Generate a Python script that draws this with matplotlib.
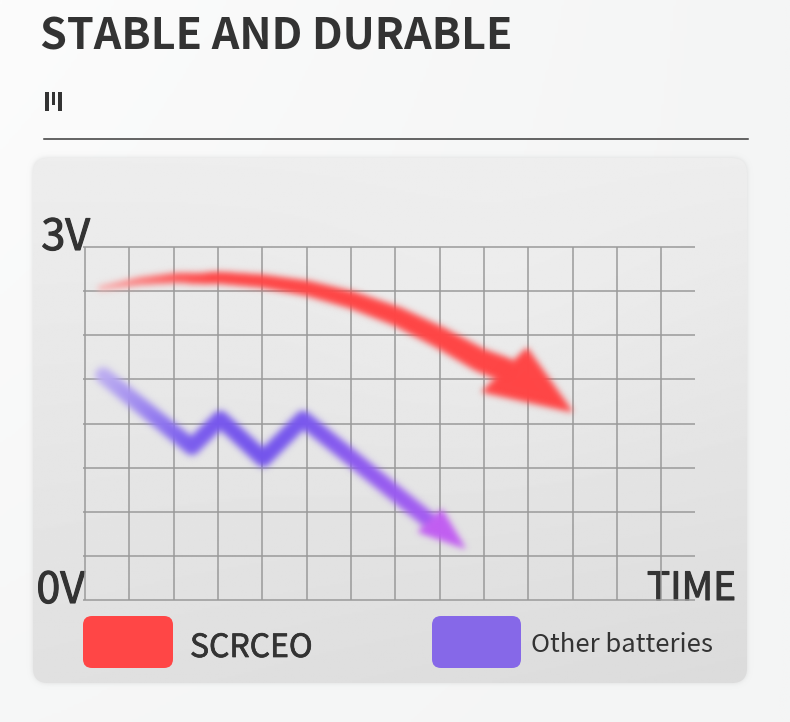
import numpy as np
import matplotlib
matplotlib.use("Agg")
import matplotlib.pyplot as plt
import matplotlib.colors as mcolors
import matplotlib.patheffects as pe
from matplotlib.collections import LineCollection
from matplotlib.patches import FancyBboxPatch, Polygon, Rectangle

plt.rcParams['font.family'] = ['Noto Sans CJK SC', 'DejaVu Sans']

# ---- data: time in grid units, voltage from 0 V to 3 V ----
time_ticks = list(range(14))
volt_levels = [0, 0.375, 0.75, 1.125, 1.5, 1.875, 2.25, 2.625, 3.0]
time_end = 13.76

# SCRCEO discharge curve (tapered arrow shaft) and its arrowhead
red_t = [0.34, 1.24, 2.14, 2.98, 3.99, 5.01, 6.02, 7.04, 8.01, 8.91, 9.46]
red_v = [2.65, 2.71, 2.74, 2.74, 2.71, 2.65, 2.55, 2.41, 2.23, 2.04, 1.96]
red_w = [5, 8, 10, 12, 13, 15, 17, 19, 21, 23, 24]
red_head_t = [8.96, 10.99, 9.97]
red_head_v = [1.77, 1.60, 2.14]

# Other batteries: unstable zig-zag and its arrowhead
purple_t = [0.41, 2.41, 3.05, 4.02, 4.92, 7.78]
purple_v = [1.91, 1.30, 1.54, 1.20, 1.54, 0.67]
purple_head_t = [7.52, 8.57, 8.05]
purple_head_v = [0.58, 0.44, 0.77]

legend_labels = ["SCRCEO", "Other batteries"]
legend_colors = ["#ff4646", "#8668e8"]

TEXT = "#333333"
W, H = 790, 722


class GaussianBlur:
    """agg filter: gaussian blur on the rendered artist (alpha-premultiplied)."""

    def __init__(self, sigma_px):
        self.sigma = sigma_px

    def __call__(self, im, dpi):
        s = self.sigma * dpi / 100.0
        r = int(np.ceil(3 * s))
        xk = np.arange(-r, r + 1)
        k = np.exp(-0.5 * (xk / s) ** 2)
        k /= k.sum()
        a = im[..., 3:4]
        src = np.concatenate([im[..., :3] * a, a], axis=-1)
        p = 2 * r
        src = np.pad(src, [(p, p), (p, p), (0, 0)])
        for axis in (0, 1):
            out = np.zeros_like(src)
            for i, w in enumerate(k):
                out += w * np.roll(src, i - r, axis=axis)
            src = out
        alpha = src[..., 3:4]
        rgb = src[..., :3] / np.maximum(alpha, 1e-6)
        res = np.concatenate([np.clip(rgb, 0, 1), np.clip(alpha, 0, 1)], axis=-1)
        return res, -p, -p


def gradient_stroke(ax, xs, ys, widths_px, colors, sub=16, blur=3.0, z=3):
    cols = [np.array(mcolors.to_rgb(c)) for c in colors]
    segs, lws, cs = [], [], []
    for i in range(len(xs) - 1):
        for j in range(sub):
            t0, t1 = j / sub, (j + 1) / sub
            tm = (t0 + t1) / 2
            p0 = (xs[i] + (xs[i + 1] - xs[i]) * t0, ys[i] + (ys[i + 1] - ys[i]) * t0)
            p1 = (xs[i] + (xs[i + 1] - xs[i]) * t1, ys[i] + (ys[i + 1] - ys[i]) * t1)
            segs.append([p0, p1])
            lws.append((widths_px[i] + (widths_px[i + 1] - widths_px[i]) * tm) * 0.72)
            cs.append(cols[i] + (cols[i + 1] - cols[i]) * tm)
    lc = LineCollection(segs, linewidths=lws, colors=cs, capstyle='round',
                        joinstyle='round', zorder=z)
    lc.set_agg_filter(GaussianBlur(blur))
    ax.add_collection(lc)
    return lc


def medium(width):
    return [pe.withStroke(linewidth=width, foreground=TEXT)]


fig = plt.figure(figsize=(W / 100, H / 100), dpi=100)
fig.patch.set_facecolor("#f6f7f7")

# page-level decoration axes in pixel units
bg = fig.add_axes([0, 0, 1, 1])
bg.set_xlim(0, W)
bg.set_ylim(H, 0)
bg.axis("off")

# soft white sheen on the page background
sheen = np.linspace(1.0, 0.0, 256)[None, :] * np.linspace(1.0, 0.3, 256)[:, None]
bg.imshow(sheen, extent=(0, W, H, 0), cmap=mcolors.LinearSegmentedColormap.from_list(
    "sheen", ["#f4f5f5", "#fcfcfc"]), aspect="auto", zorder=0)

bg.text(40, 50, "STABLE AND DURABLE", fontsize=31, fontweight="bold", color=TEXT,
        ha="left", va="baseline")
for x0, y0, w, h in [(44.5, 92, 4, 19), (51.5, 92, 3.5, 13), (58, 92, 4, 19)]:
    bg.add_patch(Rectangle((x0, y0), w, h, color=TEXT, lw=0))
bg.plot([44, 748], [139, 139], color="#3a3a3a", lw=1.1)

# rounded card behind the chart
panel = FancyBboxPatch((33, 158), 714, 525, boxstyle="round,pad=0,rounding_size=15",
                       fc="none", ec="none", zorder=1)
bg.add_patch(panel)
shadow = FancyBboxPatch((33, 158), 714, 525, boxstyle="round,pad=0,rounding_size=15",
                        fc="#dcdddd", ec="none", zorder=0.5)
shadow.set_agg_filter(GaussianBlur(2.5))
bg.add_patch(shadow)
gy = np.linspace(0, 1, 256)[:, None]
gx = np.linspace(0, 1, 256)[None, :]
card = 0.93 - 0.05 * gy - 0.02 * gx * gy + 0.012 * np.exp(-((gx - 0.65) ** 2 + (gy - 0.35) ** 2) / 0.08)
im = bg.imshow(card, extent=(33, 747, 683, 158), cmap="gray", vmin=0, vmax=1,
               aspect="auto", zorder=1)
im.set_clip_path(panel)

# legend chips
bg.add_patch(FancyBboxPatch((83, 616), 90, 52, boxstyle="round,pad=0,rounding_size=9",
                            fc=legend_colors[0], ec="none", zorder=2))
bg.add_patch(FancyBboxPatch((432, 616), 89, 52, boxstyle="round,pad=0,rounding_size=9",
                            fc=legend_colors[1], ec="none", zorder=2))
bg.text(190, 657, legend_labels[0], fontsize=23, color=TEXT, ha="left", va="baseline",
        zorder=2, path_effects=medium(0.5))
bg.text(531, 652, legend_labels[1], fontsize=18.5, color=TEXT, ha="left", va="baseline", zorder=2)

# axis end labels
bg.text(90, 250, "3V", fontsize=31, color=TEXT, ha="right", va="baseline", zorder=2,
        path_effects=medium(0.8))
bg.text(85, 603, "0V", fontsize=31, color=TEXT, ha="right", va="baseline", zorder=2,
        path_effects=medium(0.8))
bg.text(736, 600, "TIME", fontsize=28, color=TEXT, ha="right", va="baseline", zorder=2,
        path_effects=medium(0.8))

# ---- chart axes ----
ax = fig.add_axes([85 / W, (H - 600) / H, 610 / W, 353 / H])
ax.set_xlim(0, time_end)
ax.set_ylim(0, 3)
ax.axis("off")
ax.patch.set_alpha(0)

ax.vlines(time_ticks, 0, 3, colors="#9a9a9a", lw=1.1, zorder=1, clip_on=False)
ax.hlines(volt_levels, -0.05, time_end, colors="#9a9a9a", lw=1.1, zorder=1, clip_on=False)

# SCRCEO arrow
red_cols = ["#fbb4b4", "#fd8080", "#ff5a5a"] + ["#ff4545"] * (len(red_t) - 3)
gradient_stroke(ax, red_t, red_v, red_w, red_cols, blur=3.2, z=3)
rh = Polygon(np.column_stack([red_head_t, red_head_v]), closed=True,
             fc="#ff4545", ec="#ff4545", lw=1, zorder=3)
rh.set_agg_filter(GaussianBlur(3.2))
ax.add_patch(rh)

# Other batteries arrow
pur_cols = ["#c0b2f2", "#7c5eef", "#7858ee", "#7454ed", "#7858ee", "#a45cf2"]
gradient_stroke(ax, purple_t, purple_v, [16] * len(purple_t), pur_cols, blur=3.4, z=4)
ph = Polygon(np.column_stack([purple_head_t, purple_head_v]), closed=True,
             fc="#c25ef2", ec="#c25ef2", lw=1, zorder=4)
ph.set_agg_filter(GaussianBlur(3.2))
ax.add_patch(ph)

fig.savefig("out.png", dpi=100, facecolor=fig.get_facecolor())
